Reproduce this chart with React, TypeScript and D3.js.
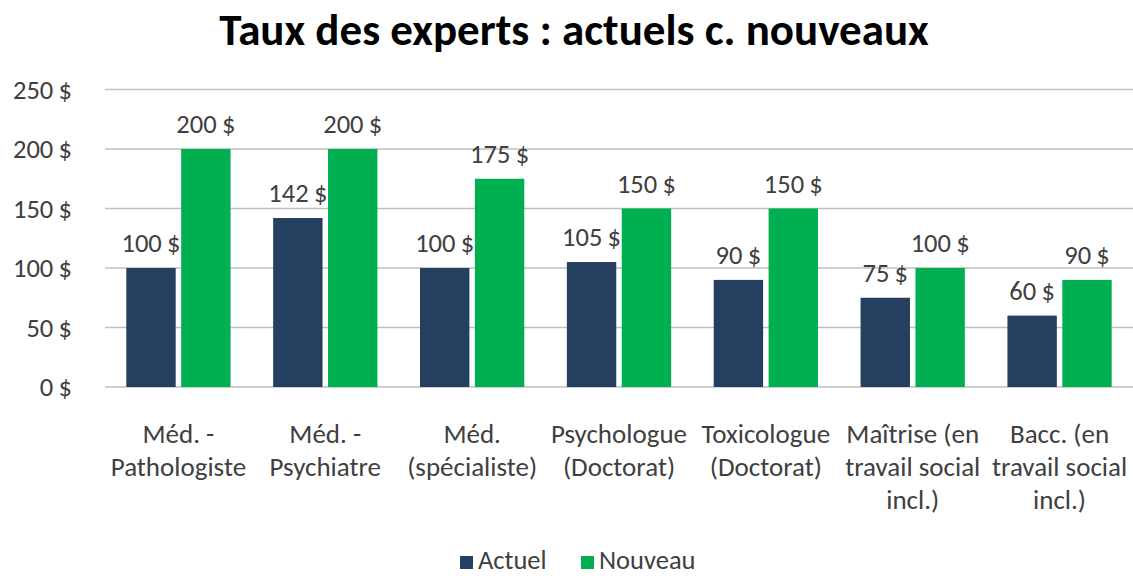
import React from 'react';
import * as d3 from 'd3';

// Chart data
const categories = [
  ['Méd. -', 'Pathologiste'],
  ['Méd. -', 'Psychiatre'],
  ['Méd.', '(spécialiste)'],
  ['Psychologue', '(Doctorat)'],
  ['Toxicologue', '(Doctorat)'],
  ['Maîtrise (en', 'travail social', 'incl.)'],
  ['Bacc. (en', 'travail social', 'incl.)'],
];
const actuel = [100, 142, 100, 105, 90, 75, 60];
const nouveau = [200, 200, 175, 150, 150, 100, 90];
const seriesNames = ['Actuel', 'Nouveau'];
const yTicks = [0, 50, 100, 150, 200, 250];

const colors = ['#243F60', '#00B050'];
const font = "Carlito, Calibri, 'Noto Sans', sans-serif";
const textColor = '#404040';

function App() {
  const width = 1133;
  const height = 576;
  const left = 105;
  const right = 1133;
  const top = 89.5;
  const bottom = 387;

  const x = d3.scaleBand<number>()
    .domain(d3.range(categories.length))
    .range([left, right])
    .paddingInner(0.29)
    .paddingOuter(0.145);
  const inner = d3.scaleBand<number>()
    .domain([0, 1])
    .range([0, x.bandwidth()])
    .paddingInner(0.1);
  const y = d3.scaleLinear().domain([0, 250]).range([bottom, top]);

  const series = [actuel, nouveau];
  const fmt = (v: number) => `${v}\u2009$`;

  return (
    <svg width={width} height={height} style={{ display: 'block', position: 'absolute', left: 0, top: 0 }}>
      <rect width={width} height={height} fill="#fff" />
      <text x={574} y={45} textAnchor="middle" fontFamily={font} fontWeight="bold" fontSize={45} fill="#000">
        Taux des experts : actuels c. nouveaux
      </text>

      {yTicks.map((t) => (
        <g key={t}>
          <line x1={left} x2={right} y1={y(t)} y2={y(t)} stroke="#BFBFBF" strokeWidth={1.5} />
          <text x={72} y={y(t) + 9} textAnchor="end" fontFamily={font} fontSize={26.5} fill={textColor}>
            {fmt(t)}
          </text>
        </g>
      ))}

      {series.map((vals, s) => (
        <g key={s}>
          {vals.map((v, i) => {
            const bx = (x(i) ?? 0) + (inner(s) ?? 0);
            return (
              <g key={i}>
                <rect x={bx} y={y(v)} width={inner.bandwidth()} height={bottom - y(v)} fill={colors[s]} />
                <text x={bx + inner.bandwidth() / 2} y={y(v) - 16} textAnchor="middle" fontFamily={font} fontSize={26.5} fill={textColor}>
                  {fmt(v)}
                </text>
              </g>
            );
          })}
        </g>
      ))}

      {categories.map((lines, i) => (
        <text key={i} textAnchor="middle" fontFamily={font} fontSize={27} fill={textColor}>
          {lines.map((l, j) => (
            <tspan key={j} x={(x(i) ?? 0) + x.bandwidth() / 2} y={443 + j * 33}>{l}</tspan>
          ))}
        </text>
      ))}

      {seriesNames.map((n, s) => (
        <g key={n} transform={`translate(${460 + s * 121},556)`}>
          <rect width={13} height={13} fill={colors[s]} />
          <text x={18} y={12.5} fontFamily={font} fontSize={26.5} fill={textColor}>{n}</text>
        </g>
      ))}
    </svg>
  );
}

export default App;
